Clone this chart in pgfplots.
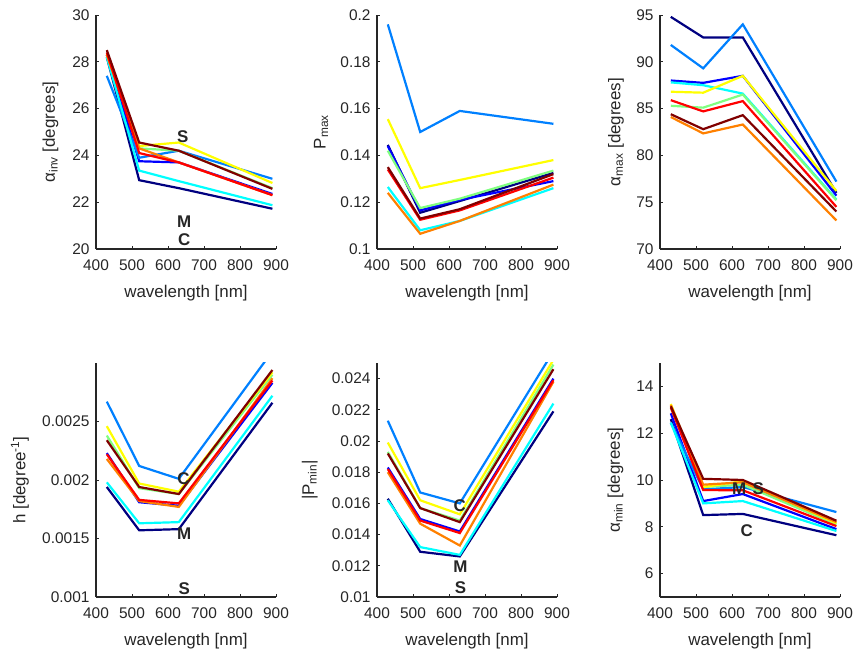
\documentclass[border=0pt]{standalone}
\usepackage{pgfplots}
\pgfplotsset{compat=1.18}
\usepackage{pgfplotstable}
\usepackage{fontspec}
\setmainfont{Liberation Sans}

\definecolor{c1}{rgb}{0,0,0.5}
\definecolor{c2}{rgb}{0,0,1}
\definecolor{c3}{rgb}{0,0.5,1}
\definecolor{c4}{rgb}{0,1,1}
\definecolor{c5}{rgb}{0.5,1,0.5}
\definecolor{c6}{rgb}{1,1,0}
\definecolor{c7}{rgb}{1,0.5,0}
\definecolor{c8}{rgb}{1,0,0}
\definecolor{c9}{rgb}{0.5,0,0}
\definecolor{txt}{rgb}{0.15,0.15,0.15}

% columns: navy blue azure cyan green yellow orange red darkred
\pgfplotstableread{
x a b c d e f g h i
430 28.2 28.3 27.4 28.2 28.3 28.35 28.3 28.4 28.5
520 22.94 23.75 23.9 23.35 24.3 24.4 24.3 24.1 24.55
630 22.6 23.7 24.2 22.9 24.2 24.55 23.7 23.7 24.2
890 21.72 22.35 23.0 21.87 22.6 22.82 22.3 22.3 22.57
}\tainv
\pgfplotstableread{
x a b c d e f g h i
430 0.1445 0.144 0.196 0.1265 0.142 0.1555 0.124 0.134 0.135
520 0.1155 0.1165 0.150 0.108 0.1175 0.126 0.1065 0.1125 0.113
630 0.1205 0.1210 0.159 0.112 0.1215 0.1295 0.112 0.1165 0.117
890 0.1325 0.129 0.1535 0.126 0.1335 0.138 0.1275 0.1305 0.132
}\tpmax
\pgfplotstableread{
x a b c d e f g h i
430 94.8 88.0 91.8 87.8 85.3 86.8 84.1 85.9 84.4
520 92.6 87.75 89.3 87.5 85.1 86.7 82.35 84.7 82.8
630 92.6 88.5 94.0 86.6 86.5 88.5 83.3 85.8 84.3
890 76.0 75.7 77.2 75.3 75.2 76.2 73.05 74.5 74.0
}\tamax
\pgfplotstableread{
x a b c d e f g h i
430 0.00194 0.00223 0.00267 0.00198 0.00238 0.00246 0.00218 0.00222 0.00234
520 0.00157 0.00181 0.00212 0.00163 0.00193 0.00197 0.00182 0.00183 0.00194
630 0.00158 0.00178 0.00201 0.00164 0.00188 0.00190 0.00177 0.00180 0.00188
890 0.00266 0.00283 0.0031 0.00272 0.00290 0.00292 0.00287 0.00285 0.00294
}\th
\pgfplotstableread{
x a b c d e f g h i
430 0.0163 0.0183 0.0213 0.0162 0.0193 0.0199 0.0180 0.0182 0.0192
520 0.0129 0.0150 0.0167 0.0132 0.0157 0.0162 0.0147 0.0149 0.0157
630 0.0126 0.0142 0.0160 0.0127 0.0149 0.0153 0.0133 0.0141 0.0148
890 0.0219 0.0240 0.02575 0.0224 0.0249 0.0252 0.0238 0.0239 0.0246
}\tpmin
\pgfplotstableread{
x a b c d e f g h i
430 12.6 12.85 12.45 12.45 13.1 13.25 13.2 13.1 13.15
520 8.5 9.1 9.6 9.0 9.7 9.7 9.8 9.57 10.05
630 8.55 9.4 9.7 9.1 9.8 9.95 9.9 9.56 10.0
890 7.64 7.9 8.63 7.82 8.1 8.15 8.2 8.03 8.26
}\tamin

\newcommand{\nine}[1]{%
\addplot[c1] table[x=x,y=a]{#1};
\addplot[c2] table[x=x,y=b]{#1};
\addplot[c3] table[x=x,y=c]{#1};
\addplot[c4] table[x=x,y=d]{#1};
\addplot[c5] table[x=x,y=e]{#1};
\addplot[c6] table[x=x,y=f]{#1};
\addplot[c7] table[x=x,y=g]{#1};
\addplot[c8] table[x=x,y=h]{#1};
\addplot[c9] table[x=x,y=i]{#1};
}

\pgfplotsset{panel/.style={
  scale only axis, width=180bp, height=234bp, anchor=south west,
  axis lines=left, axis line style={-, line width=1.6bp, txt},
  xmin=400, xmax=900, xtick={400,500,600,700,800,900},
  xticklabels={400,500,600,700,800,900},
  tick align=inside, major tick length=3bp,
  tick style={line width=0.9bp, txt},
  /pgf/number format/assume math mode=true,
  tick label style={font=\fontsize{15.5}{18}\selectfont, text=txt},
  xticklabel style={yshift=-7bp},
  yticklabel style={xshift=-3bp},
  label style={font=\fontsize{17}{20}\selectfont, text=txt},
  xlabel style={at={(axis description cs:0.5,-0.188)}, anchor=center},
  xlabel={wavelength [nm]},
  scaled y ticks=false,
  every axis plot/.append style={line width=2.2bp, no markers},
},
yl/.style={ylabel style={at={(axis description cs:#1,0.5)}, anchor=center}}}
\newcommand{\lab}[3]{\node[font=\bfseries\fontsize{17}{17}\selectfont, text=txt] at (axis cs:#1,#2) {#3};}

\begin{document}
\begin{tikzpicture}
\useasboundingbox (0,0) rectangle (865bp,655bp);
\begin{axis}[panel, at={(96bp,406bp)}, ymin=20, ymax=30, ytick={20,22,24,26,28,30}, yticklabels={20,22,24,26,28,30},
  ylabel={α\textsubscript{inv} [degrees]}, yl=-0.2528]
\nine{\tainv}
\lab{641}{24.82}{S}
\lab{645}{21.18}{M}
\lab{645}{20.4}{C}
\end{axis}
\begin{axis}[panel, at={(377bp,406bp)}, ymin=0.1, ymax=0.2, ytick={0.1,0.12,0.14,0.16,0.18,0.2}, yticklabels={0.1,0.12,0.14,0.16,0.18,0.2},
  ylabel={P\textsubscript{max}}, yl=-0.311]
\nine{\tpmax}
\end{axis}
\begin{axis}[panel, at={(660bp,406bp)}, ymin=70, ymax=95, ytick={70,75,80,85,90,95}, yticklabels={70,75,80,85,90,95},
  ylabel={α\textsubscript{max} [degrees]}, yl=-0.2444]
\nine{\tamax}
\end{axis}
\begin{axis}[panel, at={(96bp,58bp)}, ymin=0.001, ymax=0.003, ytick={0.001,0.0015,0.002,0.0025}, yticklabels={0.001,0.0015,0.002,0.0025},
  ylabel={h [degree\textsuperscript{-1}]}, yl=-0.4222]
\nine{\th}
\lab{643}{0.002013}{C}
\lab{645}{0.001544}{M}
\lab{645}{0.001069}{S}
\end{axis}
\begin{axis}[panel, at={(377bp,58bp)}, ymin=0.01, ymax=0.025, ytick={0.01,0.012,0.014,0.016,0.018,0.02,0.022,0.024}, yticklabels={0.01,0.012,0.014,0.016,0.018,0.02,0.022,0.024},
  ylabel={|P\textsubscript{min}|}, yl=-0.374]
\nine{\tpmin}
\lab{630}{0.01586}{C}
\lab{632}{0.01197}{M}
\lab{632}{0.01058}{S}
\end{axis}
\begin{axis}[panel, at={(660bp,58bp)}, ymin=5, ymax=15, ytick={6,8,10,12,14}, yticklabels={6,8,10,12,14},
  ylabel={α\textsubscript{min} [degrees]}, yl=-0.247]
\nine{\tamin}
\lab{620}{9.62}{M}
\lab{673}{9.62}{S}
\lab{641}{7.84}{C}
\end{axis}
\end{tikzpicture}
\end{document}
